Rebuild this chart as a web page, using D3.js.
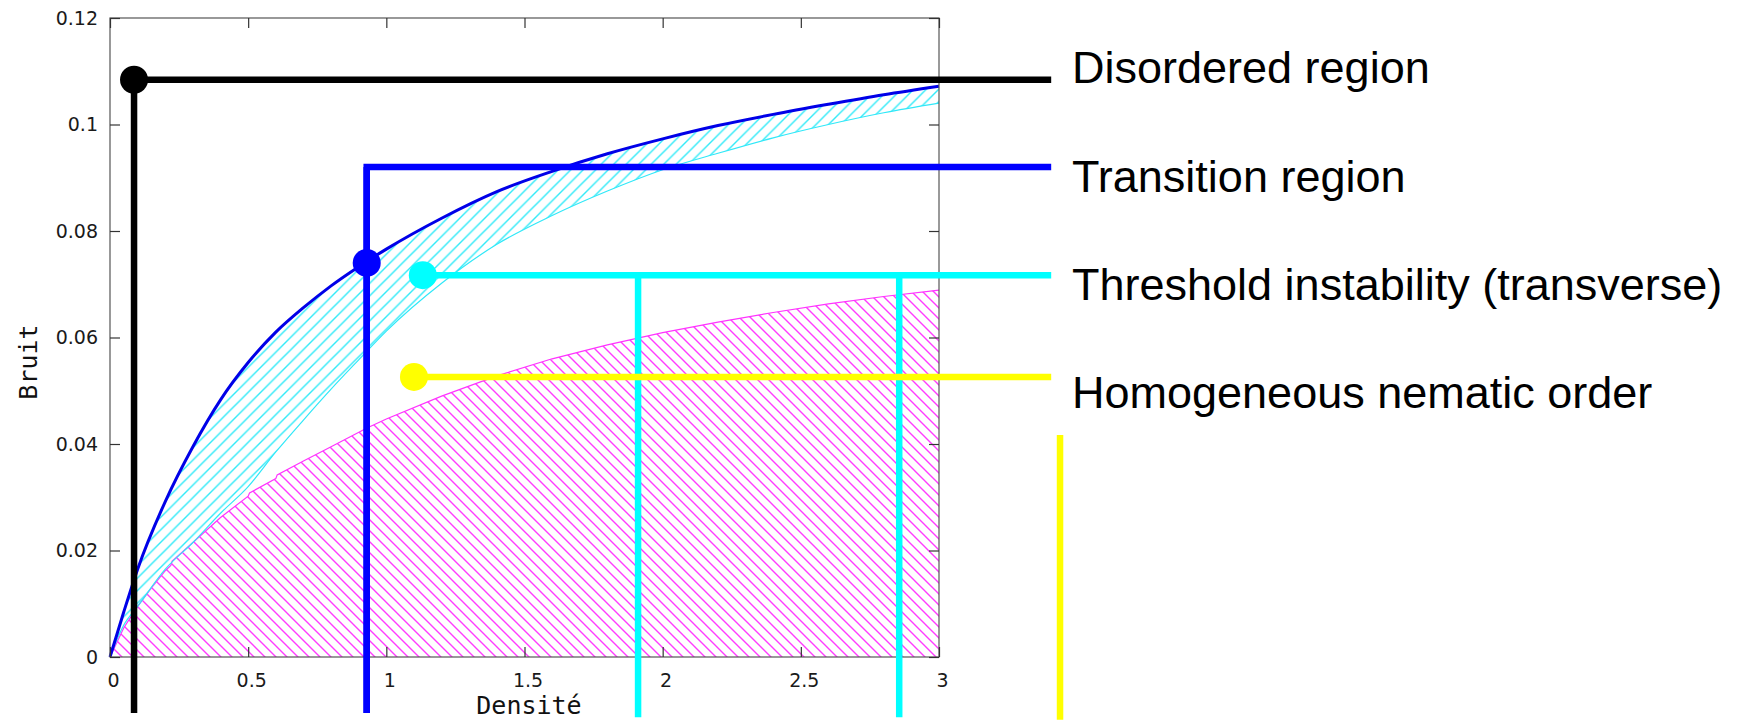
<!DOCTYPE html>
<html>
<head>
<meta charset="utf-8">
<script src="https://cdn.jsdelivr.net/npm/d3@7"></script>
<style>
  body { margin: 0; background: #fff; }
  .tick text { font-family: "DejaVu Sans", sans-serif; font-size: 19px; fill: #1a1a1a; }
  .label { font-family: "DejaVu Sans Mono", monospace; font-size: 25px; fill: #111; }
  .legend { font-family: "Liberation Sans", Arial, sans-serif; font-size: 45px; fill: #000; }
</style>
</head>
<body>
<div id="chart-area"></div>
<script>
/*
*    phase diagram: Bruit vs Densite
*/

const xTicks = [0, 0.5, 1, 1.5, 2, 2.5, 3];
const xTickLabels = ["0", "0.5", "1", "1.5", "2", "2.5", "3"];
const yTicks = [0, 0.02, 0.04, 0.06, 0.08, 0.1, 0.12];
const yTickLabels = ["0", "0.02", "0.04", "0.06", "0.08", "0.1", "0.12"];

// curves
const densite = [0, 0.05, 0.1, 0.2, 0.3, 0.4, 0.5, 0.6, 0.7, 0.8, 0.9, 1.0, 1.2, 1.4, 1.6, 1.8, 2.0, 2.2, 2.4, 2.6, 2.8, 3.0];
const transition = [0, 0.0085, 0.0165, 0.0292, 0.0395, 0.0483, 0.0553, 0.061, 0.0656, 0.0697, 0.0733, 0.0766, 0.0824, 0.0874, 0.0912, 0.0945, 0.0973, 0.0998, 0.1019, 0.1038, 0.1056, 0.1072];
const threshold = [0, 0.006, 0.0095, 0.0165, 0.0215, 0.027, 0.032, 0.0385, 0.0445, 0.0503, 0.0558, 0.0612, 0.0702, 0.0775, 0.0829, 0.0875, 0.0915, 0.0946, 0.0975, 0.1, 0.1022, 0.104];

const orderX = [0, 0.05, 0.1, 0.15, 0.2, 0.22, 0.225, 0.3, 0.4, 0.5, 0.505, 0.6, 0.605, 0.7, 0.8, 0.93, 1.0, 1.2, 1.4, 1.6, 1.8, 2.0, 2.2, 2.4, 2.6, 2.8, 3.0];
const orderY = [0, 0.0055, 0.0095, 0.013, 0.0162, 0.0172, 0.018, 0.0215, 0.0262, 0.0302, 0.0308, 0.0335, 0.0342, 0.0368, 0.0395, 0.043, 0.0447, 0.049, 0.0528, 0.056, 0.0586, 0.0609, 0.0629, 0.0647, 0.0663, 0.0677, 0.0689];

// annotation markers
const regionNames = ["Disordered region", "Transition region", "Threshold instability (transverse)", "Homogeneous nematic order"];
const dotX = [0.087, 0.929, 1.132, 1.1];
const dotY = [0.1084, 0.074, 0.0717, 0.0526];
const levelY = [0.1084, 0.092, 0.0717, 0.0526];
const levelStartX = [0.087, 0.929, 1.132, 1.1];
const levelEndX = 3.406;
const stemX = [[0.087], [0.929], [1.911, 2.856], [3.438]];
const stemTop = [0.1084, 0.092, 0.0717, 0.0417];
const stemBottom = [-0.0105, -0.0105, -0.0113, -0.0118];

const colors = ["#000000", "#0000ff", "#00ffff", "#ffff00"];

const margin = { top: 18, left: 110 };
const width = 829;
const height = 639;

const svg = d3.select("#chart-area").append("svg")
    .attr("width", 1740)
    .attr("height", 721);

const defs = svg.append("defs");
defs.append("pattern")
    .attr("id", "hatch-magenta")
    .attr("patternUnits", "userSpaceOnUse")
    .attr("width", 11).attr("height", 11)
    .append("path")
    .attr("d", "M0,0 L11,11 M-1,10 L1,12 M10,-1 L12,1")
    .attr("stroke", "#ff3cff")
    .attr("stroke-width", 1.4);
defs.append("pattern")
    .attr("id", "hatch-cyan")
    .attr("patternUnits", "userSpaceOnUse")
    .attr("width", 12.5).attr("height", 12.5)
    .append("path")
    .attr("d", "M0,12.5 L12.5,0 M-1,1 L1,-1 M11.5,13.5 L13.5,11.5")
    .attr("stroke", "#30eaf8")
    .attr("stroke-width", 1.4);

const g = svg.append("g")
    .attr("transform", `translate(${margin.left}, ${margin.top})`);

const x = d3.scaleLinear().domain([0, 3]).range([0, width]);
const y = d3.scaleLinear().domain([0, 0.12]).range([height, 0]);

// magenta region
const orderData = orderX.map((d, i) => ({ x: d, y: orderY[i] }));
g.append("path")
    .datum(orderData)
    .attr("fill", "url(#hatch-magenta)")
    .attr("d", d3.area().x(d => x(d.x)).y0(y(0)).y1(d => y(d.y)));
g.append("path")
    .datum(orderData)
    .attr("fill", "none")
    .attr("stroke", "#ff33ff")
    .attr("stroke-width", 1.2)
    .attr("d", d3.line().x(d => x(d.x)).y(d => y(d.y)));

// cyan band between threshold and transition
const band = densite.map((d, i) => ({ x: d, lo: threshold[i], hi: transition[i] }));
g.append("path")
    .datum(band)
    .attr("fill", "url(#hatch-cyan)")
    .attr("d", d3.area().curve(d3.curveMonotoneX).x(d => x(d.x)).y0(d => y(d.lo)).y1(d => y(d.hi)));
g.append("path")
    .datum(band)
    .attr("fill", "none")
    .attr("stroke", "#30e8f8")
    .attr("stroke-width", 1.2)
    .attr("d", d3.line().curve(d3.curveMonotoneX).x(d => x(d.x)).y(d => y(d.lo)));
g.append("path")
    .datum(band)
    .attr("fill", "none")
    .attr("stroke", "#0000e8")
    .attr("stroke-width", 3)
    .attr("d", d3.line().curve(d3.curveMonotoneX).x(d => x(d.x)).y(d => y(d.hi)));

// frame + axes
g.append("rect")
    .attr("width", width).attr("height", height)
    .attr("fill", "none").attr("stroke", "#555").attr("stroke-width", 1.2);

const xAxisCall = d3.axisBottom(x).tickValues(xTicks)
    .tickFormat((d, i) => xTickLabels[i]).tickSizeInner(-10).tickSizeOuter(0).tickPadding(30);
g.append("g").attr("class", "x axis")
    .attr("transform", `translate(0, ${height})`)
    .call(xAxisCall);
const yAxisCall = d3.axisLeft(y).tickValues(yTicks)
    .tickFormat((d, i) => yTickLabels[i]).tickSizeInner(-10).tickSizeOuter(0).tickPadding(12);
g.append("g").attr("class", "y axis").call(yAxisCall);
g.append("g").call(d3.axisTop(x).tickValues(xTicks).tickFormat("").tickSizeInner(-10).tickSizeOuter(0));
g.append("g").attr("transform", `translate(${width}, 0)`)
    .call(d3.axisRight(y).tickValues(yTicks).tickFormat("").tickSizeInner(-10).tickSizeOuter(0));
g.selectAll(".domain").remove();
g.selectAll(".tick line").attr("stroke", "#333").attr("stroke-width", 1.2);
g.selectAll(".x.axis .tick text").attr("dy", 0).attr("dx", 3);

g.append("text")
    .attr("class", "label")
    .attr("x", 419)
    .attr("y", 696)
    .attr("text-anchor", "middle")
    .text("Densité");

g.append("text")
    .attr("class", "label")
    .attr("x", -344)
    .attr("y", -73)
    .attr("text-anchor", "middle")
    .attr("transform", "rotate(-90)")
    .text("Bruit");

// annotations
regionNames.forEach((name, i) => {
    const c = colors[i];
    stemX[i].forEach(sx => {
        g.append("line")
            .attr("x1", x(sx)).attr("x2", x(sx))
            .attr("y1", y(stemTop[i])).attr("y2", y(stemBottom[i]))
            .attr("stroke", c).attr("stroke-width", 6.5);
    });
    g.append("path")
        .attr("d", i === 1
            ? `M${x(stemX[i][0])},${y(stemBottom[i])}V${y(levelY[i])}H${x(levelEndX)}`
            : `M${x(levelStartX[i])},${y(levelY[i])}H${x(levelEndX)}`)
        .attr("fill", "none")
        .attr("stroke", c).attr("stroke-width", 6.5)
        .attr("stroke-linejoin", "miter");
    g.append("circle")
        .attr("cx", x(dotX[i])).attr("cy", y(dotY[i]))
        .attr("r", 14).attr("fill", c);
});

const legendBaseline = [83, 192, 300, 408];
svg.selectAll("text.legend")
    .data(regionNames)
    .enter().append("text")
    .attr("class", "legend")
    .attr("x", 1072)
    .attr("y", (d, i) => legendBaseline[i])
    .text(d => d);
</script>
</body>
</html>
